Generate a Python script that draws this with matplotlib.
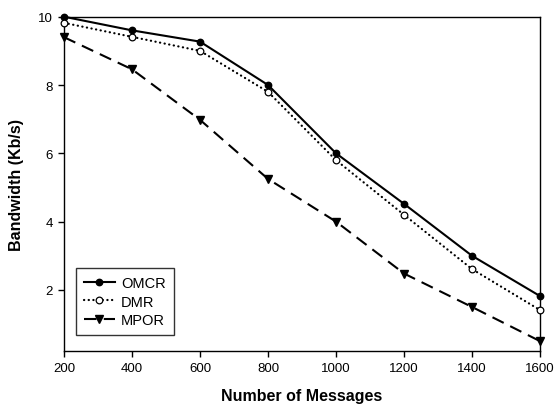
import matplotlib
matplotlib.use('Agg')
import matplotlib.pyplot as plt

# values
messages = [200, 400, 600, 800, 1000, 1200, 1400, 1600]
omcr = [10.0, 9.6, 9.27, 8.0, 6.0, 4.52, 3.0, 1.82]
dmr = [9.82, 9.41, 9.0, 7.8, 5.8, 4.2, 2.61, 1.41]
mpor = [9.4, 8.46, 6.98, 5.25, 4.0, 2.48, 1.5, 0.5]

plt.rcParams['font.family'] = ['Liberation Sans', 'DejaVu Sans']

fig = plt.figure(figsize=(5.56, 4.06), dpi=100)
ax = fig.add_axes([64 / 556, 1 - 351.7 / 406, (540 - 64) / 556, (351.7 - 17.7) / 406])

ax.plot(messages, omcr, color='black', lw=1.5, ls='-', marker='o',
        markersize=4.6, label='OMCR', clip_on=False, zorder=3)
ax.plot(messages, dmr, color='black', lw=1.6, ls=(0, (0.1, 2.0)),
        dash_capstyle='round', marker='o', markersize=4.8, markerfacecolor='white',
        markeredgecolor='black', markeredgewidth=0.9, label='DMR',
        clip_on=False, zorder=3)
ax.plot(messages, mpor, color='black', lw=1.5, ls=(0, (6, 3.5)), marker='v',
        markersize=5.5, label='MPOR', clip_on=False, zorder=3)

ax.set_xlim(200, 1600)
ax.set_ylim(0.22, 10)
ax.set_xticks(range(200, 1601, 200))
ax.set_yticks([2, 4, 6, 8, 10])
ax.tick_params(direction='out', length=4, width=1, labelsize=9.5, pad=4)
for s in ax.spines.values():
    s.set_linewidth(1)

ax.set_xlabel('Number of Messages', fontsize=11.5, fontweight='bold', labelpad=10)
ax.set_ylabel('Bandwidth (Kb/s)', fontsize=11.5, fontweight='bold', labelpad=10)

leg = ax.legend(loc='lower left', bbox_to_anchor=(12 / 476, 15.7 / 334),
                borderaxespad=0, fontsize=10.5,
                frameon=True, fancybox=False, edgecolor='black',
                handlelength=2.1, borderpad=0.55, labelspacing=0.3,
                handletextpad=0.45)
leg.get_frame().set_linewidth(1)

fig.savefig('out.png', dpi=100)
